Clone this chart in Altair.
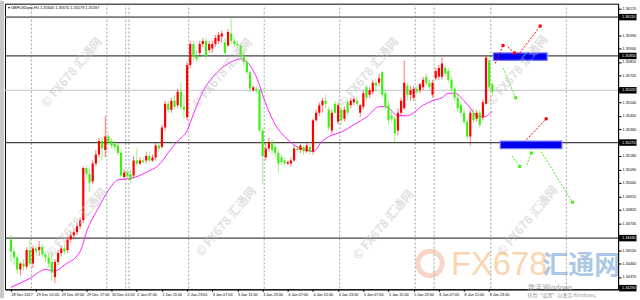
import altair as alt
import pandas as pd

# ---------------- data (GBPUSD H1) ----------------
opens = [1.3462,1.3454,1.3450,1.3442,1.3446,1.3444,1.3455,1.3446,1.3456,1.3455,
         1.3457,1.3452,1.3450,1.3447,1.3437,1.3447,1.3453,1.3456,1.3455,1.3462,
         1.3465,1.3467,1.3471,1.3475,1.3510,1.3506,1.3501,1.3513,1.3519,1.3528,
         1.3522,1.3531,1.3528,1.3526,1.3525,1.3520,1.3504,1.3507,1.3506,1.3505,
         1.3515,1.3513,1.3515,1.3515,1.3518,1.3515,1.3517,1.3525,1.3524,1.3537,
         1.3553,1.3549,1.3555,1.3552,1.3561,1.3551,1.3544,1.3579,1.3593,1.3585,
         1.3587,1.3593,1.3595,1.3589,1.3590,1.3593,1.3595,1.3598,1.3594,1.3592,
         1.3600,1.3595,1.3593,1.3592,1.3585,1.3581,1.3574,1.3562,1.3563,1.3562,
         1.3535,1.3517,1.3523,1.3527,1.3524,1.3520,1.3517,1.3515,1.3513,1.3513,
         1.3515,1.3523,1.3522,1.3524,1.3521,1.3524,1.3521,1.3542,1.3547,1.3552,
         1.3555,1.3549,1.3535,1.3553,1.3541,1.3549,1.3543,1.3554,1.3552,1.3554,
         1.3555,1.3547,1.3551,1.3564,1.3559,1.3561,1.3567,1.3567,1.3574,1.3560,
         1.3552,1.3545,1.3543,1.3535,1.3547,1.3550,1.3565,1.3559,1.3557,1.3563,
         1.3562,1.3564,1.3571,1.3567,1.3559,1.3570,1.3571,1.3571,1.3577,1.3575,
         1.3569,1.3563,1.3557,1.3552,1.3547,1.3541,1.3531,1.3547,1.3543,1.3547,
         1.3544,1.3553,1.3582,1.3566]
closes = [1.3454,1.3450,1.3442,1.3446,1.3444,1.3455,1.3446,1.3456,1.3454,1.3457,
          1.3452,1.3450,1.3446,1.3440,1.3447,1.3453,1.3456,1.3454,1.3462,1.3465,
          1.3467,1.3471,1.3475,1.3510,1.3506,1.3500,1.3513,1.3519,1.3528,1.3523,
          1.3531,1.3527,1.3525,1.3524,1.3520,1.3505,1.3507,1.3505,1.3502,1.3515,
          1.3513,1.3515,1.3514,1.3518,1.3515,1.3517,1.3525,1.3523,1.3537,1.3553,
          1.3549,1.3555,1.3551,1.3561,1.3551,1.3549,1.3579,1.3593,1.3585,1.3583,
          1.3593,1.3595,1.3585,1.3593,1.3593,1.3597,1.3599,1.3600,1.3587,1.3601,
          1.3595,1.3593,1.3592,1.3585,1.3581,1.3574,1.3563,1.3564,1.3562,1.3535,
          1.3518,1.3523,1.3527,1.3522,1.3520,1.3513,1.3514,1.3513,1.3514,1.3515,
          1.3523,1.3522,1.3525,1.3521,1.3525,1.3521,1.3542,1.3547,1.3552,1.3555,
          1.3553,1.3537,1.3547,1.3547,1.3552,1.3542,1.3549,1.3547,1.3555,1.3556,
          1.3553,1.3552,1.3560,1.3557,1.3562,1.3567,1.3565,1.3570,1.3559,1.3551,
          1.3542,1.3543,1.3533,1.3547,1.3555,1.3567,1.3559,1.3562,1.3563,1.3561,
          1.3566,1.3569,1.3567,1.3564,1.3567,1.3575,1.3577,1.3580,1.3573,1.3569,
          1.3563,1.3557,1.3550,1.3547,1.3541,1.3531,1.3547,1.3542,1.3547,1.3539,
          1.3554,1.3584,1.3564,1.3561]
highs = [1.3465,1.3457,1.3452,1.3447,1.3449,1.3457,1.3462,1.3458,1.3458,1.3461,
         1.3459,1.3454,1.3453,1.3454,1.3449,1.3455,1.3458,1.3459,1.3464,1.3467,
         1.3469,1.3473,1.3477,1.3511,1.3512,1.3509,1.3515,1.3522,1.3530,1.3531,
         1.3545,1.3533,1.3530,1.3528,1.3527,1.3522,1.3509,1.3509,1.3509,1.3518,
         1.3523,1.3517,1.3517,1.3521,1.3521,1.3519,1.3527,1.3527,1.3539,1.3555,
         1.3555,1.3557,1.3559,1.3563,1.3567,1.3559,1.3581,1.3595,1.3595,1.3589,
         1.3595,1.3597,1.3597,1.3595,1.3595,1.3599,1.3601,1.3602,1.3597,1.3603,
         1.3610,1.3597,1.3595,1.3593,1.3589,1.3583,1.3575,1.3565,1.3565,1.3563,
         1.3537,1.3527,1.3530,1.3529,1.3526,1.3522,1.3519,1.3517,1.3515,1.3517,
         1.3525,1.3525,1.3526,1.3525,1.3527,1.3526,1.3543,1.3549,1.3554,1.3557,
         1.3559,1.3551,1.3549,1.3555,1.3554,1.3551,1.3551,1.3556,1.3557,1.3558,
         1.3557,1.3553,1.3562,1.3566,1.3564,1.3569,1.3570,1.3573,1.3575,1.3562,
         1.3555,1.3549,1.3545,1.3550,1.3557,1.3582,1.3567,1.3565,1.3565,1.3565,
         1.3567,1.3571,1.3573,1.3569,1.3569,1.3577,1.3579,1.3584,1.3579,1.3577,
         1.3571,1.3565,1.3559,1.3555,1.3550,1.3543,1.3549,1.3550,1.3549,1.3549,
         1.3556,1.3585,1.3585,1.3567]
lows = [1.3447,1.3445,1.3439,1.3438,1.3441,1.3442,1.3444,1.3443,1.3451,1.3451,
        1.3450,1.3447,1.3443,1.3434,1.3433,1.3445,1.3451,1.3452,1.3453,1.3460,
        1.3462,1.3465,1.3469,1.3473,1.3503,1.3494,1.3499,1.3511,1.3517,1.3515,
        1.3517,1.3525,1.3523,1.3522,1.3518,1.3503,1.3502,1.3503,1.3500,1.3503,
        1.3511,1.3512,1.3513,1.3513,1.3514,1.3514,1.3515,1.3521,1.3523,1.3535,
        1.3547,1.3547,1.3549,1.3550,1.3549,1.3543,1.3542,1.3577,1.3582,1.3581,
        1.3585,1.3591,1.3583,1.3587,1.3587,1.3591,1.3593,1.3594,1.3585,1.3591,
        1.3593,1.3591,1.3590,1.3583,1.3578,1.3573,1.3561,1.3561,1.3560,1.3534,
        1.3499,1.3515,1.3521,1.3519,1.3517,1.3507,1.3512,1.3512,1.3512,1.3511,
        1.3514,1.3521,1.3520,1.3519,1.3520,1.3519,1.3519,1.3541,1.3545,1.3547,
        1.3550,1.3535,1.3533,1.3546,1.3539,1.3539,1.3541,1.3545,1.3550,1.3552,
        1.3551,1.3544,1.3549,1.3555,1.3557,1.3559,1.3561,1.3565,1.3557,1.3549,
        1.3539,1.3541,1.3527,1.3532,1.3545,1.3549,1.3555,1.3555,1.3555,1.3559,
        1.3560,1.3562,1.3565,1.3562,1.3557,1.3569,1.3569,1.3569,1.3571,1.3567,
        1.3561,1.3555,1.3547,1.3545,1.3539,1.3529,1.3525,1.3540,1.3541,1.3537,
        1.3542,1.3552,1.3562,1.3559]

# moving average (magenta), read at these bars
ma_idx = [0,6,11,14,17,22,24,28,31,34,38,43,47,51,53,56,58,61,66,70,73,75,78,81,84,
          87,91,94,96,99,101,105,109,113,117,119,120,123,126,128,131,134,137,139,141,
          144,146,148,150,152,153]
ma_val = [1.3430,1.3436,1.3442,1.3441,1.3445,1.3454,1.3467,1.3484,1.3495,1.3502,
          1.3503,1.3507,1.3512,1.3523,1.3528,1.3535,1.3546,1.3561,1.3575,1.3581,
          1.3583,1.3581,1.3571,1.3553,1.3539,1.3531,1.3524,1.3522,1.3521,1.3528,
          1.3531,1.3534,1.3539,1.3544,1.3551,1.3551,1.3550,1.3545,1.3545,1.3547,
          1.3552,1.3555,1.3557,1.3560,1.3560,1.3555,1.3550,1.3545,1.3544,1.3546,
          1.3548]

# axis ticks and labels
x_tick_idx = [0, 8, 16, 24, 32, 40, 48, 56, 64, 72, 80, 88, 96, 104, 112, 120, 128, 136, 144, 152]
x_tick_labels = ["28 Dec 2017", "29 Dec 01:00", "29 Dec 09:00", "29 Dec 17:00", "30 Dec 01:00",
                 "2 Jan 07:00", "2 Jan 15:00", "2 Jan 23:00", "3 Jan 07:00", "3 Jan 15:00",
                 "3 Jan 23:00", "4 Jan 07:00", "4 Jan 15:00", "4 Jan 23:00", "5 Jan 07:00",
                 "5 Jan 15:00", "5 Jan 23:00", "8 Jan 07:00", "8 Jan 15:00", "8 Jan 23:00"]
y_ticks = [1.3437, 1.3446, 1.3455, 1.3473, 1.3482, 1.3491, 1.3500, 1.3509, 1.3518,
           1.3536, 1.3545, 1.3554, 1.3572, 1.3581, 1.3590, 1.3599, 1.3617]

# horizontal levels
level_dark = [1.3585, 1.3527, 1.3463]
level_top = [1.3611]
level_light = [1.3562]
level_tags = [1.3611, 1.3585, 1.3562, 1.3527, 1.3463, 1.34295]
level_tag_text = ["1.36110", "1.35850", "1.35620", "1.35270", "1.34630", "1.34290"]

# period separators (between bars)
separators = [6.5, 30.5, 36.5, 37.5, 56.5, 80.5, 104.5, 128.5, 134.5, 152.5, 176.5]

# blue zones
zone_x0 = [153.3, 155.5]
zone_x1 = [170.4, 175.1]
zone_p0 = [1.3587, 1.3528]
zone_p1 = [1.3582, 1.3523]

# scenario arrows
arr_x0 = [153.9, 157.9, 161.7, 156.4, 163.9, 159.2, 163.9, 168.5]
arr_p0 = [1.3580, 1.3591, 1.3587, 1.3577, 1.3529, 1.3518, 1.3512, 1.3521]
arr_x1 = [156.4, 160.1, 168.2, 160.4, 170.1, 161.7, 165.4, 178.5]
arr_p1 = [1.3592, 1.3587, 1.3605, 1.3557, 1.3543, 1.3511, 1.3520, 1.3487]
arr_kind = ["up", "up", "up", "down", "up", "down", "down", "down"]

W, H = 616, 287
X_DOMAIN = [-0.3, 191.38]
Y_DOMAIN = [1.34287, 1.36200]

# ---------------- chart ----------------
n = len(closes)
bars = pd.DataFrame({"i": list(range(n)), "o": opens, "h": highs, "l": lows, "c": closes})
bars["dir"] = ["up" if c >= o else "down" for o, c in zip(opens, closes)]

xs = alt.Scale(domain=X_DOMAIN, nice=False, zero=False)
ys = alt.Scale(domain=Y_DOMAIN, nice=False, zero=False)
label_expr = "[" + ",".join("'" + s + "'" for s in x_tick_labels) + "][round(datum.value / 8)]"

x_axis = alt.Axis(values=x_tick_idx, labelExpr=label_expr, labelAlign="left",
                  labelFont="Liberation Sans", labelFontSize=3.8, labelPadding=1,
                  tickSize=2, grid=False, labelOverlap=False, labelBound=False,
                  labelFlush=False, labelSeparation=0, domainColor="#000000",
                  tickColor="#000000", labelColor="#000000")
y_axis = alt.Axis(orient="right", values=y_ticks, format=".5f",
                  labelFont="Liberation Sans", labelFontSize=3.8, labelPadding=1,
                  tickSize=3, grid=False, labelOverlap=False, labelBound=False,
                  domainColor="#000000", tickColor="#000000", labelColor="#000000")


def xq(field):
    return alt.X(field + ":Q", scale=xs, title=None, axis=x_axis)


def yq(field):
    return alt.Y(field + ":Q", scale=ys, title=None, axis=y_axis)


col = alt.Color("dir:N", scale=alt.Scale(domain=["up", "down"], range=["#ff0000", "#3cf014"]),
                legend=None)

base = alt.Chart(bars)
wicks = base.mark_rule(strokeWidth=1, opacity=0.55, clip=True).encode(
    x=xq("i"), y=yq("l"), y2="h:Q", color=col)
bodies = base.mark_bar(size=2.2, clip=True).encode(
    x=xq("i"), y=yq("o"), y2="c:Q", color=col)

ma_df = pd.DataFrame({"i": ma_idx, "v": ma_val})
ma = alt.Chart(ma_df).mark_line(color="#ff22ff", strokeWidth=1, interpolate="monotone",
                                clip=True).encode(x=xq("i"), y=yq("v"))

sep = alt.Chart(pd.DataFrame({"s": separators})).mark_rule(
    color="#8a8a8a", strokeDash=[2, 2], strokeWidth=0.8, clip=True).encode(x=xq("s"))

lv_dark = alt.Chart(pd.DataFrame({"p": level_dark})).mark_rule(
    color="#444444", strokeWidth=1.3).encode(y=yq("p"))
lv_top = alt.Chart(pd.DataFrame({"p": level_top})).mark_rule(
    color="#7a7a7a", strokeWidth=2).encode(y=yq("p"))
lv_light = alt.Chart(pd.DataFrame({"p": level_light})).mark_rule(
    color="#c4c4c4", strokeWidth=1).encode(y=yq("p"))

zones_df = pd.DataFrame({"x0": zone_x0, "x1": zone_x1, "p0": zone_p0, "p1": zone_p1})
zones = alt.Chart(zones_df).mark_rect(color="#0000ee", stroke="#7a7aff", strokeWidth=1.2,
                                      clip=True).encode(x=xq("x0"), x2="x1:Q",
                                                        y=yq("p0"), y2="p1:Q")

arr_df = pd.DataFrame({"x0": arr_x0, "p0": arr_p0, "x1": arr_x1, "p1": arr_p1, "k": arr_kind})
arr_col = alt.Color("k:N", scale=alt.Scale(domain=["up", "down"], range=["#ff4a4a", "#3ad83a"]),
                    legend=None)
arrows = alt.Chart(arr_df).mark_rule(strokeDash=[2, 1.5], strokeWidth=1, clip=True).encode(
    x=xq("x0"), x2="x1:Q", y=yq("p0"), y2="p1:Q", color=arr_col)
heads = alt.Chart(arr_df).mark_square(size=9, opacity=1, clip=True).encode(
    x=xq("x1"), y=yq("p1"), color=arr_col)

tags_df = pd.DataFrame({"p": level_tags, "t": level_tag_text})
tag_box = alt.Chart(tags_df).mark_rule(color="#000000", strokeWidth=6.5).encode(
    x=alt.value(W + 1), x2=alt.value(W + 18.5), y=yq("p"))
tag_txt = alt.Chart(tags_df).mark_text(color="#ffffff", font="Liberation Sans", fontSize=3.8,
                                       align="left", baseline="middle").encode(
    x=alt.value(W + 4), y=yq("p"), text="t:N")

# decorations: watermarks, header, window frame
one = pd.DataFrame({"z": [0]})
layers = []
wm_pos = [(67, 69), (218, 70), (365, 69), (515, 67), (72, 220), (222, 219), (380, 222), (525, 218)]
for px, py in wm_pos:
    layers.append(alt.Chart(one).mark_text(
        text="© FX678 汇通网", font="Noto Sans CJK SC", fontSize=12, fontWeight="bold",
        angle=310, color="#bdbdbd", opacity=0.45).encode(x=alt.value(px), y=alt.value(py)))

logo = alt.Chart(one).mark_point(shape="circle", size=600, strokeWidth=5, filled=False,
                                 color="#f3a28a", opacity=0.45).encode(
    x=alt.value(427), y=alt.value(261))
wm_fx = alt.Chart(one).mark_text(text="FX678", font="Liberation Sans", fontSize=33,
                                 align="left", baseline="alphabetic", color="#f7a452",
                                 opacity=0.45).encode(x=alt.value(448), y=alt.value(273))
wm_cn = alt.Chart(one).mark_text(text="汇通网", font="Noto Sans CJK SC", fontSize=26,
                                 fontWeight="bold", align="left", baseline="alphabetic",
                                 color="#4a86c8", opacity=0.45).encode(
    x=alt.value(540), y=alt.value(272))
win1 = alt.Chart(one).mark_text(text="激活 Windows", font="Noto Sans CJK SC", fontSize=7,
                                align="left", baseline="middle", color="#9a9a9a").encode(
    x=alt.value(525), y=alt.value(285.5))
win2 = alt.Chart(one).mark_text(text="转到“设置”以激活 Windows。", font="Noto Sans CJK SC",
                                fontSize=5, align="left", baseline="middle",
                                color="#9a9a9a").encode(x=alt.value(525), y=alt.value(292.5))
header = alt.Chart(one).mark_text(text="▾ GBPUSDpro,H1  1.35640 1.35670 1.35579 1.35597",
                                  font="Liberation Sans", fontSize=3.9, align="left",
                                  baseline="middle", color="#000000").encode(
    x=alt.value(3), y=alt.value(4))
frame = alt.Chart(one).mark_rect(color="#c8c8c8").encode(
    x=alt.value(-5), x2=alt.value(-1), y=alt.value(-3), y2=alt.value(H + 9))

chart = alt.layer(
    frame, sep, lv_light, lv_top, lv_dark, ma, wicks, bodies, zones, arrows, heads,
    *layers, logo, wm_fx, wm_cn, win1, win2, header, tag_box, tag_txt
).properties(
    width=W, height=H, padding=0, background="#ffffff"
).configure_view(stroke="#000000", strokeWidth=1).configure_axis(labelOverlap=False)

chart.save("out.html", embed_options={"renderer": "svg", "actions": False})
